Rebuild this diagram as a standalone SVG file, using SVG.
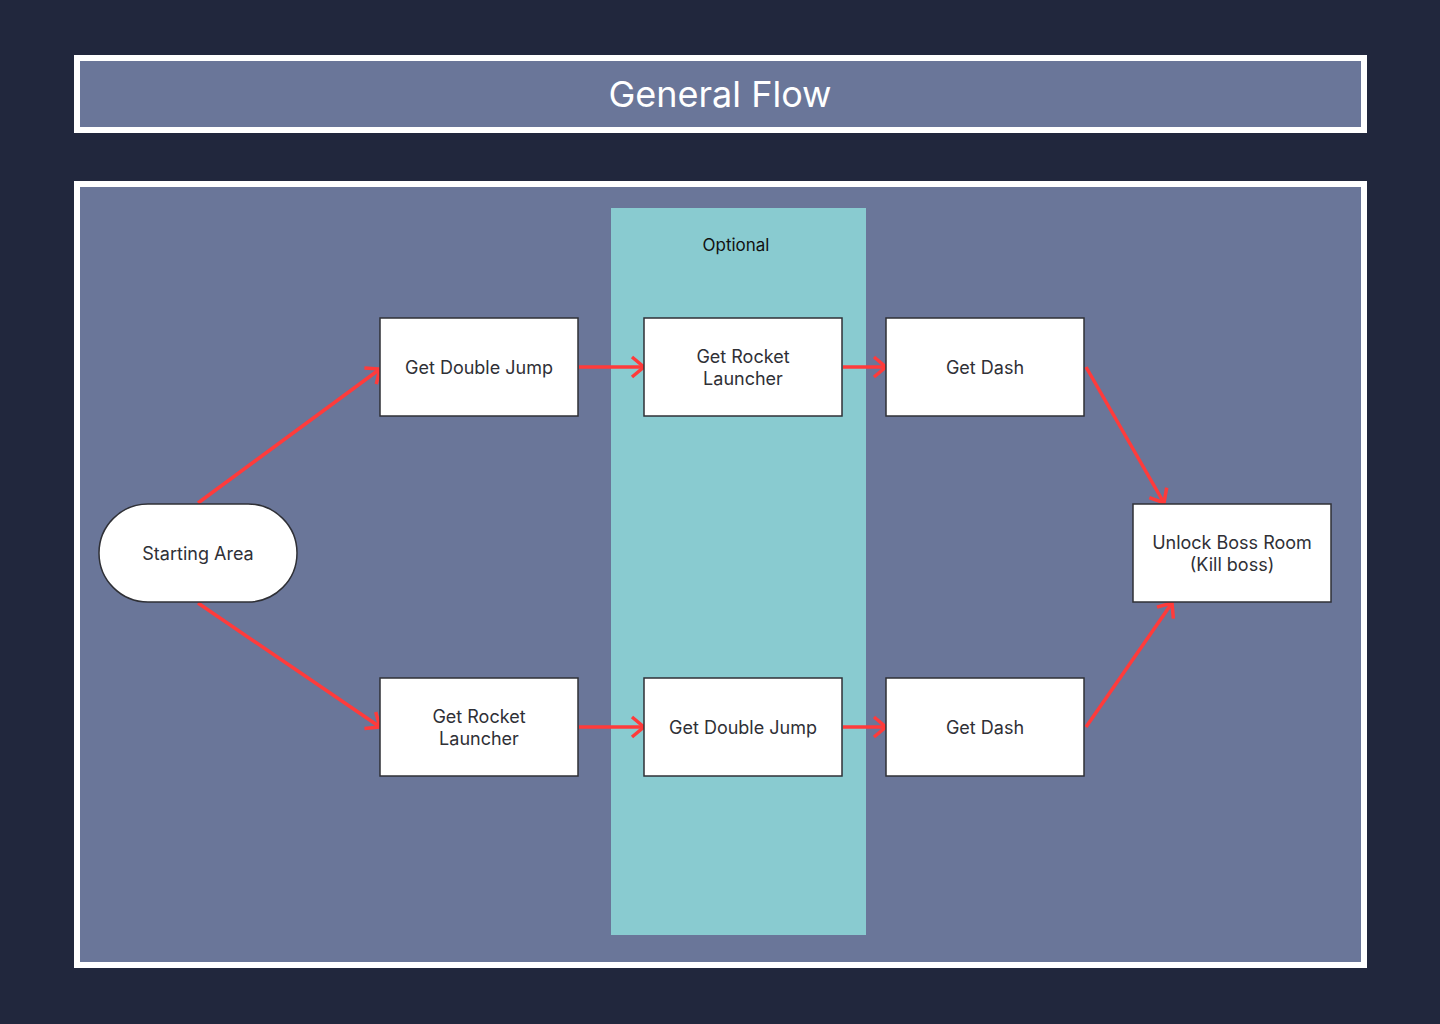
<svg xmlns="http://www.w3.org/2000/svg" width="1440" height="1024" viewBox="0 0 1440 1024">
<defs>
<style>
.frame{fill:#6a7699;stroke:#ffffff;stroke-width:6}
.node{fill:#ffffff;stroke:#2f3036;stroke-width:1.5}
.lbl{font-family:Inter,"Liberation Sans",sans-serif;font-size:18px;fill:#2f3036;text-anchor:middle}
.edge{stroke:#ff3b3b;stroke-width:3.5;fill:none;marker-end:url(#arr)}
</style>
<marker id="arr" viewBox="0 0 16 24" refX="14" refY="12" markerWidth="16" markerHeight="24" markerUnits="userSpaceOnUse" orient="auto">
<path d="M2,2 L14,12 L2,22" fill="none" stroke="#ff3b3b" stroke-width="3.5"/>
</marker>
</defs>
<rect width="1440" height="1024" fill="#21273d"/>
<rect class="frame" x="77" y="58" width="1287" height="72"/>
<text x="720" y="107" font-family="Inter,'Liberation Sans',sans-serif" font-size="36" fill="#ffffff" text-anchor="middle">General Flow</text>
<rect class="frame" x="77" y="184" width="1287" height="781"/>
<g id="optional">
<rect x="611" y="208" width="255" height="727" fill="#89cbd0"/>
<text x="736" y="251" font-family="Inter,'Liberation Sans',sans-serif" font-size="17" fill="#111111" text-anchor="middle">Optional</text>
</g>
<g id="connectors">
<line class="edge" x1="198" y1="503" x2="380" y2="369"/>
<line class="edge" x1="198" y1="603" x2="380" y2="727"/>
<line class="edge" x1="579" y1="367" x2="644" y2="367"/>
<line class="edge" x1="843" y1="367" x2="886" y2="367"/>
<line class="edge" x1="1086" y1="367" x2="1164" y2="503"/>
<line class="edge" x1="579" y1="727" x2="644" y2="727"/>
<line class="edge" x1="843" y1="727" x2="886" y2="727"/>
<line class="edge" x1="1086" y1="727" x2="1172" y2="603"/>
</g>
<g id="start">
<rect class="node" x="99" y="504" width="198" height="98" rx="49"/>
<text class="lbl" x="198" y="560">Starting Area</text>
</g>
<g id="top-double-jump">
<rect class="node" x="380" y="318" width="198" height="98"/>
<text class="lbl" x="479" y="374">Get Double Jump</text>
</g>
<g id="top-rocket">
<rect class="node" x="644" y="318" width="198" height="98"/>
<text class="lbl" x="743" y="363">Get Rocket</text>
<text class="lbl" x="743" y="385">Launcher</text>
</g>
<g id="top-dash">
<rect class="node" x="886" y="318" width="198" height="98"/>
<text class="lbl" x="985" y="374">Get Dash</text>
</g>
<g id="bottom-rocket">
<rect class="node" x="380" y="678" width="198" height="98"/>
<text class="lbl" x="479" y="723">Get Rocket</text>
<text class="lbl" x="479" y="745">Launcher</text>
</g>
<g id="bottom-double-jump">
<rect class="node" x="644" y="678" width="198" height="98"/>
<text class="lbl" x="743" y="734">Get Double Jump</text>
</g>
<g id="bottom-dash">
<rect class="node" x="886" y="678" width="198" height="98"/>
<text class="lbl" x="985" y="734">Get Dash</text>
</g>
<g id="boss">
<rect class="node" x="1133" y="504" width="198" height="98"/>
<text class="lbl" x="1232" y="549">Unlock Boss Room</text>
<text class="lbl" x="1232" y="571">(Kill boss)</text>
</g>
</svg>
